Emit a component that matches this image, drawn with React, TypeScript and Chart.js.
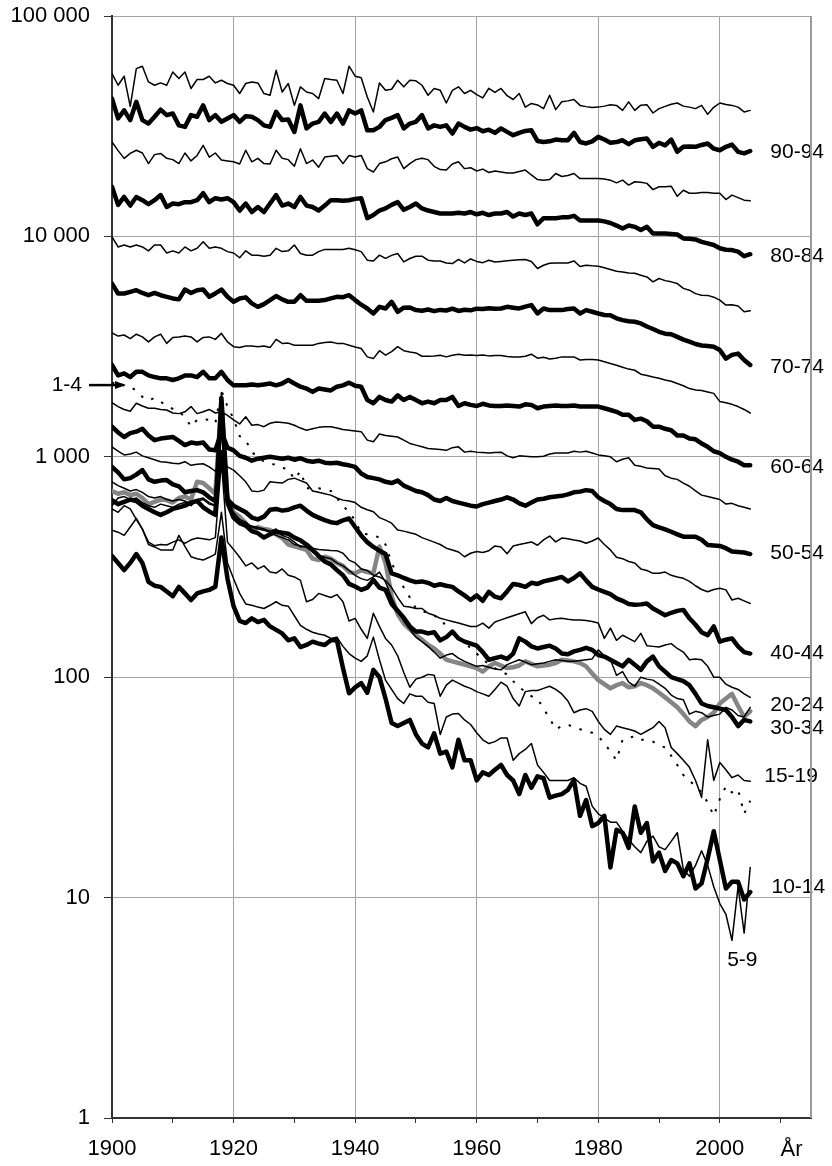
import React, { useEffect, useRef } from 'react';
import { Chart, registerables } from 'chart.js';

Chart.register(...registerables);

const years = [
  1900, 1901, 1902, 1903, 1904, 1905, 1906, 1907, 1908, 1909,
  1910, 1911, 1912, 1913, 1914, 1915, 1916, 1917, 1918, 1919,
  1920, 1921, 1922, 1923, 1924, 1925, 1926, 1927, 1928, 1929,
  1930, 1931, 1932, 1933, 1934, 1935, 1936, 1937, 1938, 1939,
  1940, 1941, 1942, 1943, 1944, 1945, 1946, 1947, 1948, 1949,
  1950, 1951, 1952, 1953, 1954, 1955, 1956, 1957, 1958, 1959,
  1960, 1961, 1962, 1963, 1964, 1965, 1966, 1967, 1968, 1969,
  1970, 1971, 1972, 1973, 1974, 1975, 1976, 1977, 1978, 1979,
  1980, 1981, 1982, 1983, 1984, 1985, 1986, 1987, 1988, 1989,
  1990, 1991, 1992, 1993, 1994, 1995, 1996, 1997, 1998, 1999,
  2000, 2001, 2002, 2003, 2004, 2005,
];

const age1_4 = [
  2150, 2200, 2100, 2070, 2000, 1870, 1800, 1850, 1780, 1700,
  1650, 1600, 1520, 1370, 1470, 1480, 1470, 1420, 2000, 1690,
  1490, 1240, 1190, 1050, 1000, 950, 930, 920, 890, 880,
  790, 860, 720, 720, 720, 710, 700, 650, 600, 560,
  515, 450, 445, 440, 430, 400, 330, 290, 255, 230,
  205, 200, 195, 190, 185, 170, 160, 150, 145, 135,
  128, 120, 115, 110, 106, 103, 96, 90, 86, 82,
  80, 72, 65, 58, 60, 61, 59, 58, 57, 56,
  54, 50, 46, 42, 52, 53, 54, 52, 52, 51,
  49, 48, 44, 40, 36, 34, 32, 30, 27, 23.5,
  28, 32, 30, 31, 24, 27.5,
];

const age5_9 = [
  465, 455, 440, 480, 525, 470, 400, 390, 378, 378,
  378, 440, 392, 352, 345, 340, 350, 362, 560, 330,
  280, 240, 215, 212, 208, 205, 212, 220, 212, 210,
  190, 172, 165, 160, 157, 155, 150, 152, 138, 128,
  122, 118, 125, 152, 120, 97, 88, 80, 76, 84,
  82, 82, 77, 76, 55, 66, 68, 68.5, 64, 61,
  56, 52, 50, 51, 53, 53, 42, 45, 47, 50,
  40, 37, 34, 34, 34, 34, 35, 33, 32, 26,
  24, 23, 22, 22, 20, 18.3, 17, 16, 18, 19,
  17, 16.5, 18, 19.7, 13.4, 12.5, 14, 16.3, 14, 11.2,
  9.4, 8.4, 6.4, 11.2, 6.9, 13.7,
];

const age10_14 = [
  355, 330, 306, 330, 362, 330, 271, 260, 257, 245,
  233, 257, 240, 224, 240, 245, 249, 257, 430, 280,
  210, 180, 176, 185, 178, 182, 170, 164, 158, 147,
  150, 137, 140, 145, 142, 140, 147, 147, 110, 84.5,
  90, 94, 85, 108, 100, 80, 62, 60, 62, 64,
  55, 50, 48, 55.6, 45, 46, 39, 52, 42, 42,
  34, 37, 36, 38, 40, 36, 34, 29.5, 36, 31.5,
  35.5, 34.8, 28.4, 29, 29.5, 30.8, 34.2, 23.5, 27.7, 21.1,
  21.8, 23.5, 13.7, 20.3, 19.7, 16.8, 25.9, 19.7, 21.8, 14.6,
  16, 13.2, 14.8, 14.3, 12.5, 14.3, 11, 11.6, 15, 20,
  14.8, 11, 11.8, 11.8, 9.8, 10.6,
];

const age15_19 = [
  580, 560, 600, 580, 520, 470, 410, 395, 400, 398,
  410, 420, 405, 420, 428, 425, 420, 430, 950, 410,
  380, 350, 320, 330, 310, 320, 300, 297, 310, 290,
  285, 275, 220, 225, 240, 235, 230, 237, 220, 180,
  185, 165, 150, 195, 170, 150, 140, 125, 105, 90,
  98, 100, 103, 102, 82, 92, 97, 94, 91, 89,
  86, 84, 82, 88, 95, 91, 80, 74, 86, 87,
  87, 89, 91, 88, 84, 78, 69, 71, 72, 70,
  63, 58, 55, 60, 59, 58, 57, 55, 57, 59,
  63, 59, 48, 45, 42, 39, 34, 28.5, 52, 34,
  41, 38, 35, 36, 34, 33.7,
];

const age20_24 = [
  700, 680, 690, 670, 680, 650, 610, 625, 640, 636,
  620, 650, 660, 640, 770, 760, 720, 680, 1800, 650,
  560, 535, 500, 465, 480, 470, 465, 445, 428, 400,
  392, 385, 378, 345, 340, 352, 345, 330, 320, 300,
  296, 306, 300, 296, 392, 330, 233, 193, 175, 165,
  155, 148, 140, 135, 128, 120, 118, 116, 114, 112,
  110, 106, 112, 116, 113, 110, 111, 113, 118, 115,
  112, 113, 114, 116, 120, 119, 118, 116, 112, 104,
  97, 93, 89, 92, 94, 90, 91, 94, 92, 89,
  85, 81, 77, 73, 68, 63, 60, 64, 66, 69,
  76, 80, 84, 74, 66, 70,
];

const age25_29 = [
  600, 650, 660, 640, 650, 620, 600, 590, 610, 600,
  590, 610, 620, 600, 640, 650, 620, 600, 1960, 640,
  560, 520, 505, 480, 470, 465, 455, 440, 430, 420,
  400, 395, 388, 370, 358, 350, 345, 330, 320, 305,
  290, 280, 275, 285, 300, 270, 230, 200, 180, 165,
  152, 145, 138, 130, 122, 126, 128, 122, 118, 115,
  112, 113, 111, 109, 108, 114, 117, 120, 117, 114,
  115, 116, 118, 120, 119, 118, 118, 119, 120, 121,
  133, 125, 120, 102, 106, 95, 91, 100, 98, 97,
  93, 89, 83, 80, 79, 68, 70, 69, 66, 67,
  68, 73, 71, 67, 66, 73,
];

const age30_34 = [
  635, 610, 625, 640, 630, 600, 580, 560, 545, 560,
  580, 590, 600, 620, 630, 590, 565, 545, 1850, 620,
  530, 500, 487, 460, 450, 430, 445, 457, 452, 448,
  430, 418, 400, 378, 355, 335, 325, 306, 290, 265,
  258, 249, 255, 276, 255, 249, 215, 200, 186, 170,
  161, 161, 158, 160, 147, 152, 161, 150, 145, 142,
  139, 130, 120, 122, 124, 121, 128, 150, 145, 138,
  135, 137, 139, 135, 128, 127, 131, 133, 136, 133,
  126, 124, 120, 116, 112, 120, 114, 108, 118, 124,
  112, 106, 100, 98, 96, 92, 84, 76, 74, 73,
  72, 71, 66, 60, 64, 63,
];

const age35_39 = [
  770, 740, 720, 700, 710, 690, 660, 650, 660, 640,
  630, 640, 630, 610, 630, 640, 610, 600, 1350, 600,
  540, 510, 495, 485, 478, 470, 460, 470, 440, 430,
  410, 390, 395, 385, 380, 378, 376, 375, 365, 340,
  330, 310, 305, 290, 285, 275, 255, 230, 210, 208,
  205, 205, 195, 191, 185, 182, 179, 176, 173, 170,
  170, 176, 167, 178, 182, 186, 190, 194, 198, 175,
  186, 191, 182, 184, 185, 183, 182, 182, 181, 179,
  176, 150, 167, 147, 155, 150, 145, 158, 139, 138,
  137, 140, 142, 135, 130, 120, 121, 120, 112, 100,
  100, 93, 90, 88, 84, 81,
];

const age40_44 = [
  900, 850, 790, 800, 830, 870, 790, 770, 780, 784,
  750, 735, 690, 700, 706, 690, 655, 630, 1050, 640,
  600, 580, 560, 530, 520, 535, 575, 580, 570, 575,
  590, 600, 570, 545, 530, 516, 505, 500, 515, 525,
  480, 440, 410, 390, 375, 362, 296, 290, 282, 275,
  270, 272, 268, 260, 264, 260, 257, 245, 235, 224,
  235, 222, 244, 232, 228, 245, 265, 262, 257, 268,
  265, 272, 276, 280, 285, 272, 282, 296, 275, 257,
  250, 244, 238, 228, 222, 215, 213, 214, 216, 205,
  198, 191, 196, 200, 202, 185, 173, 160, 155, 170,
  145, 148, 150, 138, 130, 128,
];

const age45_49 = [
  1108, 1060, 1020, 1030, 1050, 1010, 990, 970, 950, 945,
  935, 930, 950, 915, 925, 930, 900, 860, 980, 900,
  870, 820, 770, 700, 695, 706, 770, 765, 760, 790,
  800, 780, 760, 700, 690, 680, 670, 650, 636, 630,
  620, 590, 575, 563, 530, 516, 500, 465, 460, 452,
  445, 430, 420, 410, 400, 385, 378, 370, 352, 365,
  372, 368, 375, 394, 390, 363, 394, 400, 405, 411,
  397, 420, 437, 411, 428, 425, 419, 415, 405, 415,
  428, 400, 378, 350, 345, 335, 330, 310, 305, 296,
  296, 300, 290, 285, 281, 272, 260, 250, 244, 250,
  253, 249, 224, 228, 222, 216,
];

const age50_54 = [
  1370, 1290, 1230, 1280, 1300, 1340, 1250, 1190, 1210, 1220,
  1230, 1180, 1130, 1160, 1150, 1160, 1080, 1070, 1300, 1100,
  1070, 1010, 990, 960, 980, 990, 1000, 990, 980, 990,
  970, 985, 960, 950, 960, 940, 935, 940, 925, 915,
  900, 840, 810, 800, 790, 770, 760, 780, 740, 720,
  700, 690, 670, 640, 630, 650, 630, 620, 610, 600,
  595, 610, 620, 630, 640, 655, 640, 615, 600, 620,
  640, 645, 655, 660, 665, 675, 690, 695, 706, 700,
  655, 630, 610, 580, 573, 573, 573, 560, 520, 490,
  478, 468, 457, 445, 434, 434, 434, 420, 398, 396,
  394, 385, 372, 370, 368, 362,
];

const age55_59 = [
  1760, 1690, 1640, 1610, 1750, 1700, 1660, 1660, 1640, 1630,
  1580, 1570, 1600, 1690, 1570, 1600, 1640, 1580, 1600, 1540,
  1470, 1410, 1520, 1390, 1400, 1370, 1420, 1440, 1430, 1420,
  1390, 1350, 1320, 1340, 1360, 1370, 1370, 1350, 1330, 1320,
  1310, 1300, 1190, 1170, 1270, 1250, 1240, 1230, 1190, 1150,
  1130, 1110, 1090, 1085, 1080, 1070, 1100, 1110, 1050, 1060,
  1050, 1045, 1040, 1045, 1050, 1010, 990, 1010, 1005, 1000,
  1000, 1005, 1030, 1040, 1040, 1040, 1060, 1050, 1060, 1040,
  1020, 1010, 1000, 950, 975, 990, 915, 905, 890, 885,
  880, 820, 800, 790, 760, 735, 700, 670, 660, 650,
  640, 610, 615, 600, 590, 580,
];

const age60_64 = [
  2610, 2340, 2390, 2300, 2430, 2430, 2340, 2300, 2270, 2270,
  2230, 2270, 2340, 2340, 2300, 2430, 2270, 2270, 2430, 2230,
  2110, 2110, 2110, 2130, 2110, 2130, 2150, 2110, 2150, 2230,
  2150, 2080, 2040, 1970, 2040, 2020, 2000, 2080, 2110, 2170,
  2100, 2080, 1810, 1750, 1870, 1810, 1780, 1900, 1810, 1870,
  1810, 1750, 1780, 1750, 1810, 1810, 1870, 1700, 1750, 1720,
  1700, 1740, 1710, 1700, 1700, 1710, 1700, 1690, 1730, 1720,
  1660, 1690, 1700, 1710, 1700, 1700, 1710, 1690, 1690, 1690,
  1690, 1660, 1630, 1600, 1550, 1550, 1470, 1490, 1450, 1370,
  1370, 1340, 1320, 1250, 1250, 1210, 1200, 1150, 1110, 1060,
  1040, 1000, 970, 950, 915, 915,
];

const age65_69 = [
  3650, 3530, 3570, 3440, 3600, 3500, 3320, 3500, 3600, 3270,
  3480, 3500, 3530, 3500, 3320, 3480, 3500, 3410, 3630, 3320,
  3160, 3130, 3180, 3180, 3160, 3180, 3130, 3410, 3270, 3280,
  3210, 3210, 3210, 3210, 3270, 3300, 3320, 3270, 3270, 3210,
  3150, 3100, 2840, 2790, 3030, 2890, 3000, 3160, 3030, 2990,
  2960, 2860, 2860, 2870, 2890, 2840, 2890, 2920, 2890, 2900,
  2880, 2900, 2870, 2880, 2880, 2850, 2840, 2840, 2860, 2920,
  2800, 2830, 2780, 2800, 2840, 2840, 2840, 2750, 2760, 2760,
  2750, 2700, 2650, 2600, 2550, 2500, 2470, 2370, 2340, 2300,
  2270, 2230, 2200, 2150, 2100, 2040, 2010, 2000, 1970, 1940,
  1780, 1760, 1730, 1690, 1640, 1580,
];

const age70_74 = [
  6110, 5510, 5510, 5600, 5700, 5540, 5410, 5540, 5410, 5320,
  5230, 5180, 5740, 5540, 5700, 5740, 5320, 5510, 5740, 5320,
  5050, 5230, 5290, 4970, 4790, 4930, 5140, 5360, 5180, 5050,
  5050, 5410, 5100, 5100, 5100, 5140, 5230, 5320, 5300, 5410,
  5140, 4900, 4710, 4470, 4790, 4710, 5050, 4550, 4750, 4760,
  4630, 4600, 4660, 4580, 4640, 4610, 4700, 4590, 4650, 4620,
  4700, 4680, 4720, 4700, 4710, 4790, 4750, 4710, 4800, 4880,
  4470, 4710, 4630, 4630, 4630, 4680, 4710, 4470, 4630, 4550,
  4470, 4400, 4390, 4250, 4170, 4120, 4100, 4030, 3900, 3800,
  3690, 3620, 3600, 3500, 3400, 3330, 3250, 3200, 3180, 3160,
  3050, 2790, 2900, 2940, 2750, 2610,
];

const age75_79 = [
  9950, 8960, 9140, 8960, 9140, 8960, 8600, 9140, 9140, 8410,
  8600, 8410, 8960, 8600, 8830, 9450, 8830, 8960, 8830, 8530,
  8410, 8000, 8600, 8220, 8220, 8130, 8220, 8830, 8530, 8600,
  9140, 8360, 8220, 8220, 8530, 8730, 8730, 8730, 8730, 8830,
  8700, 8530, 7800, 7740, 8220, 7950, 8200, 8360, 7660, 7940,
  8130, 8130, 7800, 7740, 7740, 7580, 7530, 7860, 7580, 7900,
  7700, 7600, 7800, 7650, 7700, 7750, 7800, 7830, 7860, 7700,
  7150, 7400, 7550, 7580, 7580, 7580, 7740, 7300, 7400, 7350,
  7320, 7200, 7080, 6950, 6900, 6830, 6800, 6660, 6550, 6220,
  6440, 6300, 6220, 6110, 5810, 5700, 5500, 5410, 5400, 5300,
  5140, 4880, 4900, 4830, 4550, 4600,
];

const age80_84 = [
  16800, 13900, 15100, 13800, 15100, 14600, 14000, 14600, 15400, 13600,
  14100, 14000, 14300, 14300, 14600, 15700, 14300, 14900, 14700, 14900,
  14300, 13100, 14100, 12900, 13600, 12900, 14100, 15400, 13800, 14100,
  13600, 15100, 13800, 13600, 13100, 13800, 14600, 14600, 14500, 14600,
  14800, 14900, 12100, 12500, 13100, 13400, 13900, 14300, 13200, 13600,
  14100, 13400, 13100, 12900, 12700, 12700, 12700, 12800, 12700, 12900,
  12600, 12800, 12500, 12700, 12700, 12900, 12300, 12700, 12500, 12700,
  11350, 12100, 12100, 12100, 12200, 12200, 12400, 11800, 11800, 11800,
  11800, 11700, 11500, 11200, 10850, 11200, 11050, 10700, 11050, 10300,
  10300, 10300, 10250, 10200, 9790, 9750, 9690, 9450, 9300, 9140,
  8830, 8700, 8670, 8530, 8130, 8300,
];

const age85_89 = [
  26800, 24500, 22600, 23800, 24600, 23900, 21400, 23500, 23800, 22600,
  22300, 21400, 23900, 22000, 23300, 25900, 22900, 23900, 22200, 22000,
  21800, 21300, 24600, 21800, 22600, 21400, 21300, 24600, 22600, 22300,
  20800, 25000, 21400, 22200, 20600, 22900, 23100, 23300, 21400, 23300,
  22900, 23300, 20300, 19600, 21400, 21800, 22500, 22900, 20300, 21400,
  22300, 22600, 22300, 20800, 20100, 20000, 21300, 21800, 20300, 20500,
  19800, 20200, 19500, 19800, 19600, 19400, 19400, 19700, 20000, 19000,
  18100, 18000, 18100, 19300, 18700, 18900, 19300, 18300, 18300, 18300,
  18300, 18200, 18000, 17500, 18000, 17100, 17700, 17600, 17400, 16300,
  16800, 16800, 16900, 15200, 16200, 15700, 15700, 15800, 15800, 15700,
  15700, 14700, 15400, 15000, 14600, 14500,
];

const age90_94 = [
  42200, 34300, 37300, 33700, 40800, 33700, 32500, 34900, 37600, 35500,
  36100, 31900, 31400, 35500, 34900, 39300, 33700, 35500, 33100, 34300,
  35500, 33100, 35100, 34900, 33700, 31900, 31400, 36700, 33700, 33900,
  29800, 39300, 30900, 32500, 33100, 36100, 33100, 36100, 32500, 37300,
  36100, 37300, 30300, 30300, 31400, 33700, 34500, 35500, 30900, 32500,
  33100, 35500, 30900, 31900, 31400, 31900, 29300, 32500, 31400, 30500,
  31000, 30000, 30500, 29500, 30900, 29800, 28800, 29500, 30100, 30300,
  27100, 26800, 27000, 27500, 27300, 27300, 29500, 26800, 26400, 27000,
  28300, 27500, 26600, 26800, 27300, 26200, 27300, 27600, 27800, 25500,
  26600, 25900, 27500, 24200, 25500, 25600, 25500, 26000, 26400, 25000,
  24600, 25500, 26100, 24200, 23800, 24400,
];

const age95plus = [
  54800, 48500, 53300, 38900, 57700, 59200, 50200, 48500, 49700, 48500,
  55700, 52000, 55700, 46900, 51500, 51500, 53300, 49700, 51100, 49400,
  48500, 44500, 49400, 50200, 49700, 44500, 43700, 56700, 45200, 49400,
  39300, 47700, 45200, 44500, 42200, 52000, 51500, 51100, 44500, 59200,
  53300, 52500, 42900, 36700, 49700, 46000, 46500, 51100, 47700, 51100,
  50800, 48500, 43700, 46900, 46000, 40300, 46000, 47700, 44500, 46000,
  44000, 42500, 47000, 45000, 46900, 43500, 41800, 44500, 38600, 40100,
  39500, 38000, 43700, 37600, 40800, 41200, 41800, 39300, 38800, 38400,
  38600, 39000, 39600, 39300, 37300, 40800, 37300, 39400, 39600, 36300,
  38000, 38900, 39800, 40300, 39000, 38600, 38000, 39300, 35800, 38500,
  40300, 39700, 39300, 38600, 36700, 37300,
];

const xTickValues = [1900, 1910, 1920, 1930, 1940, 1950, 1960, 1970, 1980, 1990, 2000, 2010];
const xTickLabels = ['1900', '', '1920', '', '1940', '', '1960', '', '1980', '', '2000', ''];
const xAxisTitle = 'År';
const yTickValues = [1, 10, 100, 1000, 10000, 100000];
const yTickLabels = ['1', '10', '100', '1 000', '10 000', '100 000'];

const endLabelTexts = ['90-94', '80-84', '70-74', '60-64', '50-54', '40-44', '20-24', '30-34', '15-19', '10-14', '5-9'];
const endLabelYears = [2008.3, 2008.3, 2008.3, 2008.3, 2008.3, 2008.3, 2008.3, 2008.3, 2007.3, 2008.5, 2003.7];
const endLabelValues = [24200, 8100, 2550, 895, 365, 128, 74.5, 58.5, 35.7, 11.2, 5.2];
const arrowLabel = '1-4';
const arrowValue = 2115;

const FONT = "'Liberation Sans', Arial, Helvetica, sans-serif";

type Style = 'thin' | 'thick' | 'gray' | 'dotted';
const seriesDefs: { name: string; data: number[]; style: Style }[] = [
  { name: '1-4', data: age1_4, style: 'dotted' },
  { name: '5-9', data: age5_9, style: 'thin' },
  { name: '10-14', data: age10_14, style: 'thick' },
  { name: '15-19', data: age15_19, style: 'thin' },
  { name: '20-24', data: age20_24, style: 'gray' },
  { name: '25-29', data: age25_29, style: 'thin' },
  { name: '30-34', data: age30_34, style: 'thick' },
  { name: '35-39', data: age35_39, style: 'thin' },
  { name: '40-44', data: age40_44, style: 'thick' },
  { name: '45-49', data: age45_49, style: 'thin' },
  { name: '50-54', data: age50_54, style: 'thick' },
  { name: '55-59', data: age55_59, style: 'thin' },
  { name: '60-64', data: age60_64, style: 'thick' },
  { name: '65-69', data: age65_69, style: 'thin' },
  { name: '70-74', data: age70_74, style: 'thick' },
  { name: '75-79', data: age75_79, style: 'thin' },
  { name: '80-84', data: age80_84, style: 'thick' },
  { name: '85-89', data: age85_89, style: 'thin' },
  { name: '90-94', data: age90_94, style: 'thick' },
  { name: '95-', data: age95plus, style: 'thin' },
];

const styleProps: Record<Style, any> = {
  thin: { borderColor: '#000000', borderWidth: 1.5, order: 1, borderCapStyle: 'round' },
  thick: { borderColor: '#000000', borderWidth: 4.5, order: 2, borderCapStyle: 'round' },
  gray: { borderColor: '#858585', borderWidth: 4.5, order: 3, borderCapStyle: 'round' },
  dotted: { borderColor: '#000000', borderWidth: 2, borderDash: [2.5, 9], order: 0, borderCapStyle: 'butt' },
};

const annotations = {
  id: 'annotations',
  afterDraw(chart: any) {
    const { ctx, chartArea, scales } = chart;
    const xs = scales.x;
    const ys = scales.y;
    ctx.save();
    ctx.fillStyle = '#000';
    ctx.font = `21px ${FONT}`;
    ctx.textBaseline = 'middle';
    endLabelTexts.forEach((t, i) => {
      ctx.textAlign = t === '5-9' ? 'center' : 'left';
      ctx.fillText(t, xs.getPixelForValue(endLabelYears[i]), ys.getPixelForValue(endLabelValues[i]));
    });
    // 1-4 label with arrow
    const ay = ys.getPixelForValue(arrowValue);
    ctx.textAlign = 'right';
    ctx.fillText(arrowLabel, 82, ay);
    ctx.strokeStyle = '#000';
    ctx.lineWidth = 2.5;
    ctx.beginPath();
    ctx.moveTo(89, ay);
    ctx.lineTo(117, ay);
    ctx.stroke();
    ctx.beginPath();
    ctx.moveTo(115, ay - 4);
    ctx.lineTo(126, ay);
    ctx.lineTo(115, ay + 4);
    ctx.closePath();
    ctx.fill();
    // axis title År
    ctx.font = `22px ${FONT}`;
    ctx.textAlign = 'left';
    ctx.fillText(xAxisTitle, xs.getPixelForValue(2010), chartArea.bottom + 32);
    // right border
    ctx.strokeStyle = '#9a9a9a';
    ctx.lineWidth = 2;
    ctx.beginPath();
    ctx.moveTo(chartArea.right, chartArea.top);
    ctx.lineTo(chartArea.right, chartArea.bottom);
    ctx.stroke();
    ctx.restore();
  },
};

export default function App() {
  const ref = useRef<HTMLCanvasElement | null>(null);
  useEffect(() => {
    if (!ref.current) return;
    const datasets = seriesDefs.map((s) => ({
      label: s.name,
      data: years.map((yr, i) => ({ x: yr, y: s.data[i] })),
      pointRadius: 0,
      tension: 0,
      fill: false,
      borderJoinStyle: 'round',
      ...styleProps[s.style],
    }));
    const chart = new Chart(ref.current, {
      type: 'line',
      data: { datasets } as any,
      options: {
        animation: false,
        responsive: false,
        events: [],
        layout: { padding: { top: 16, right: 21, left: 0, bottom: 0 } },
        plugins: { legend: { display: false }, tooltip: { enabled: false } },
        scales: {
          x: {
            type: 'linear',
            min: 1900,
            max: 2015,
            afterBuildTicks: (s: any) => {
              s.ticks = xTickValues.map((v) => ({ value: v }));
            },
            afterFit: (s: any) => {
              s.height = 48;
              s.paddingLeft = 0;
              s.paddingRight = 0;
            },
            ticks: {
              autoSkip: false,
              maxRotation: 0,
              padding: 13,
              color: '#000',
              font: { family: FONT, size: 22 },
              callback: (_v: any, i: number) => xTickLabels[i],
            },
            grid: {
              color: (c: any) => (c.tick && c.tick.value % 20 === 0 ? '#a3a3a3' : 'rgba(0,0,0,0)'),
              tickColor: '#333',
              tickLength: 5,
              lineWidth: 1,
            },
            border: { color: '#333', width: 2 },
          },
          y: {
            type: 'logarithmic',
            min: 1,
            max: 100000,
            afterBuildTicks: (s: any) => {
              s.ticks = yTickValues.map((v) => ({ value: v }));
            },
            afterFit: (s: any) => {
              s.width = 112;
              s.paddingTop = 0;
              s.paddingBottom = 0;
            },
            ticks: {
              autoSkip: false,
              padding: 14,
              color: '#000',
              font: { family: FONT, size: 22 },
              callback: (_v: any, i: number) => yTickLabels[i],
            },
            grid: { color: '#a3a3a3', tickColor: '#333', tickLength: 8, lineWidth: 1 },
            border: { color: '#333', width: 2 },
          },
        },
      } as any,
      plugins: [annotations],
    });
    return () => chart.destroy();
  }, []);
  return (
    <div style={{ position: 'absolute', left: 0, top: 0, width: 832, height: 1166, background: '#fff' }}>
      <canvas ref={ref} width={832} height={1166} style={{ display: 'block', width: 832, height: 1166 }} />
    </div>
  );
}
